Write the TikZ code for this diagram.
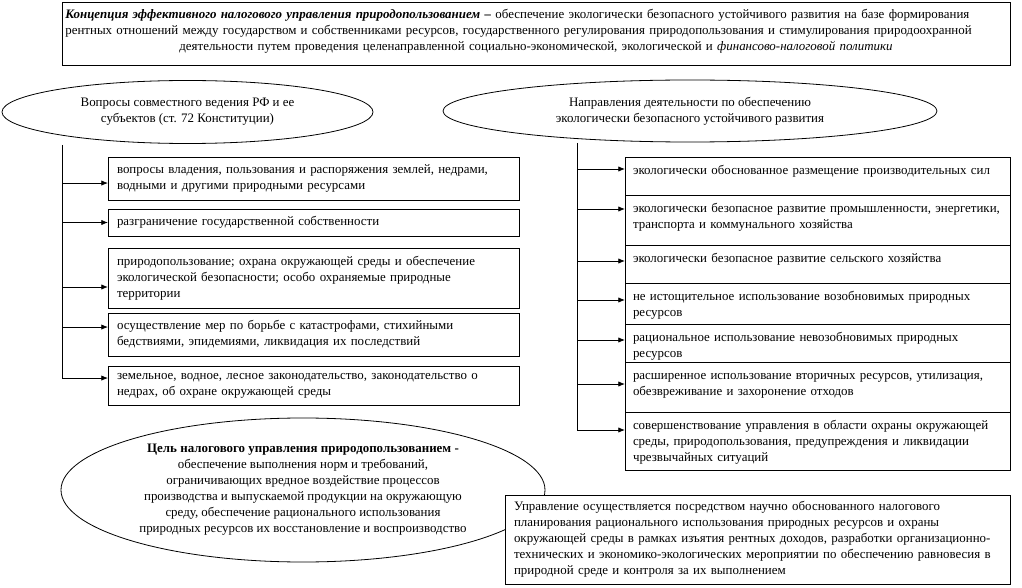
\documentclass[tikz,border=0pt]{standalone}
\usepackage{fontspec}
\setmainfont{Liberation Serif}
\usetikzlibrary{shapes.geometric,arrows.meta,positioning}

\begin{document}
\begin{tikzpicture}[x=0.75pt, y=-0.75pt, font=\fontsize{9.7}{12}\selectfont,
    taxBoxStyle/.style={draw, line width=0.6pt, anchor=north west, outer sep=0pt, align=left},
    taxListStyle/.style={taxBoxStyle, text width=294.75pt, inner xsep=6.75pt, inner ysep=0pt},
    taxDirStyle/.style={taxBoxStyle, text width=276.75pt, inner xsep=6pt, inner ysep=6pt, text height=7pt},
    taxEllStyle/.style={draw, ellipse, line width=0.6pt, inner sep=0pt, align=center},
    taxArrowStyle/.style={-{Latex[length=5pt,width=4pt]}, line width=0.6pt}]
    \useasboundingbox (0,0) rectangle (1022,588);

    % Concept box
    \node[taxBoxStyle, align=center, text width=706pt, inner xsep=2.5pt, inner ysep=3pt,
        text height=9.5pt, text depth=31.75pt] (concept) at (62,2)
        {\makebox[\linewidth][s]{\textbf{\textit{Концепция эффективного налогового управления природопользованием –}} обеспечение экологически безопасного устойчивого развития на базе формирования}\\
         \makebox[\linewidth][s]{рентных отношений между государством и собственниками ресурсов, государственного регулирования природопользования и стимулирования природоохранной}\\
         деятельности путем проведения целенаправленной социально-экономической, экологической и \textit{финансово-налоговой политики}};

    \node[taxEllStyle, minimum width=278.25pt, minimum height=47.25pt] (jointEll) at (187.5,112)
        {Вопросы совместного ведения РФ и ее\\ субъектов (ст. 72 Конституции)};
    \node[taxEllStyle, minimum width=370.5pt, minimum height=46.5pt] (ecoEll) at (690,111)
        {Направления деятельности по обеспечению\\ экологически безопасного устойчивого развития};

    \node[taxListStyle, minimum height=32.25pt] (q1) at (108,157)
        {вопросы владения, пользования и распоряжения землей, недрами,\\ водными и другими природными ресурсами};
    \node[taxListStyle, minimum height=20.25pt] (q2) at (108,209)
        {разграничение государственной собственности};
    \node[taxListStyle, minimum height=45pt] (q3) at (108,248)
        {природопользование; охрана окружающей среды и обеспечение\\ экологической безопасности; особо охраняемые природные\\ территории};
    \node[taxListStyle, minimum height=32.25pt] (q4) at (108,313)
        {осуществление мер по борьбе с катастрофами, стихийными\\ бедствиями, эпидемиями, ликвидация их последствий};
    \node[taxListStyle, minimum height=29.25pt] (q5) at (108,366)
        {земельное, водное, лесное законодательство, законодательство о\\ недрах, об охране окружающей среды};

    \node[taxDirStyle, text depth=9.5pt] (d1) at (625,157)
        {экологически обоснованное размещение производительных сил};
    \node[taxDirStyle, text depth=18.5pt] (d2) at (d1.south west)
        {\mbox{экологически безопасное развитие промышленности, энергетики,}\\ транспорта и коммунального хозяйства};
    \node[taxDirStyle, text depth=9.5pt] (d3) at (d2.south west)
        {экологически безопасное развитие сельского хозяйства};
    \node[taxDirStyle, text depth=11.75pt] (d4) at (d3.south west)
        {не истощительное использование возобновимых природных\\ ресурсов};
    \node[taxDirStyle, text depth=9.5pt] (d5) at (d4.south west)
        {рациональное использование невозобновимых природных\\ ресурсов};
    \node[taxDirStyle, text depth=18.5pt] (d6) at (d5.south west)
        {расширенное использование вторичных ресурсов, утилизация,\\ обезвреживание и захоронение отходов};
    \node[taxDirStyle, text depth=24.5pt] (d7) at (d6.south west)
        {совершенствование управления в области охраны окружающей\\ среды, природопользования, предупреждения и ликвидации\\ чрезвычайных ситуаций};

    \node[taxEllStyle, minimum width=363pt, minimum height=108pt] (goalEll) at (303,490)
        {\textbf{Цель налогового управления природопользованием -}\\
         обеспечение выполнения норм и требований,\\
         ограничивающих вредное воздействие процессов\\
         производства и выпускаемой продукции на окружающую\\
         среду, обеспечение рационального использования\\
         природных ресурсов их восстановление и воспроизводство};
    \node[taxBoxStyle, fill=white, text width=365.25pt, inner xsep=6.75pt, minimum height=66.75pt] (mgmtBox) at (505,495)
        {\mbox{Управление осуществляется посредством научно обоснованного налогового}\\
         \mbox{планирования рационального использования природных ресурсов и охраны}\\
         \mbox{окружающей среды в рамках изъятия рентных доходов, разработки организационно-}\\
         \mbox{технических и экономико-экологических мероприятии по обеспечению равновесия в}\\
         природной среде и контроля за их выполнением};

    % Trunks and arrows
    \coordinate (jointTop) at (62,145);
    \coordinate (ecoTop) at (577,143);
    \foreach \n/\s in {q1/-3.4pt, q2/0pt, q3/-6.75pt, q4/5.6pt, q5/5.6pt} {
        \coordinate (\n a) at ([yshift=\s]\n.west);
        \draw[taxArrowStyle] (jointTop |- \n a) -- (\n a);
    }
    \foreach \n/\s in {d1/-9pt, d2/-10.5pt, d3/-12pt, d4/-12.75pt, d5/-12pt, d6/-16.5pt, d7/-13.5pt} {
        \coordinate (\n a) at ([yshift=\s]\n.north west);
        \draw[taxArrowStyle] (ecoTop |- \n a) -- (\n a);
    }
    \draw[line width=0.6pt] (jointTop) -- (jointTop |- q5a);
    \draw[line width=0.6pt] (ecoTop) -- (ecoTop |- d7a);
\end{tikzpicture}
\end{document}
